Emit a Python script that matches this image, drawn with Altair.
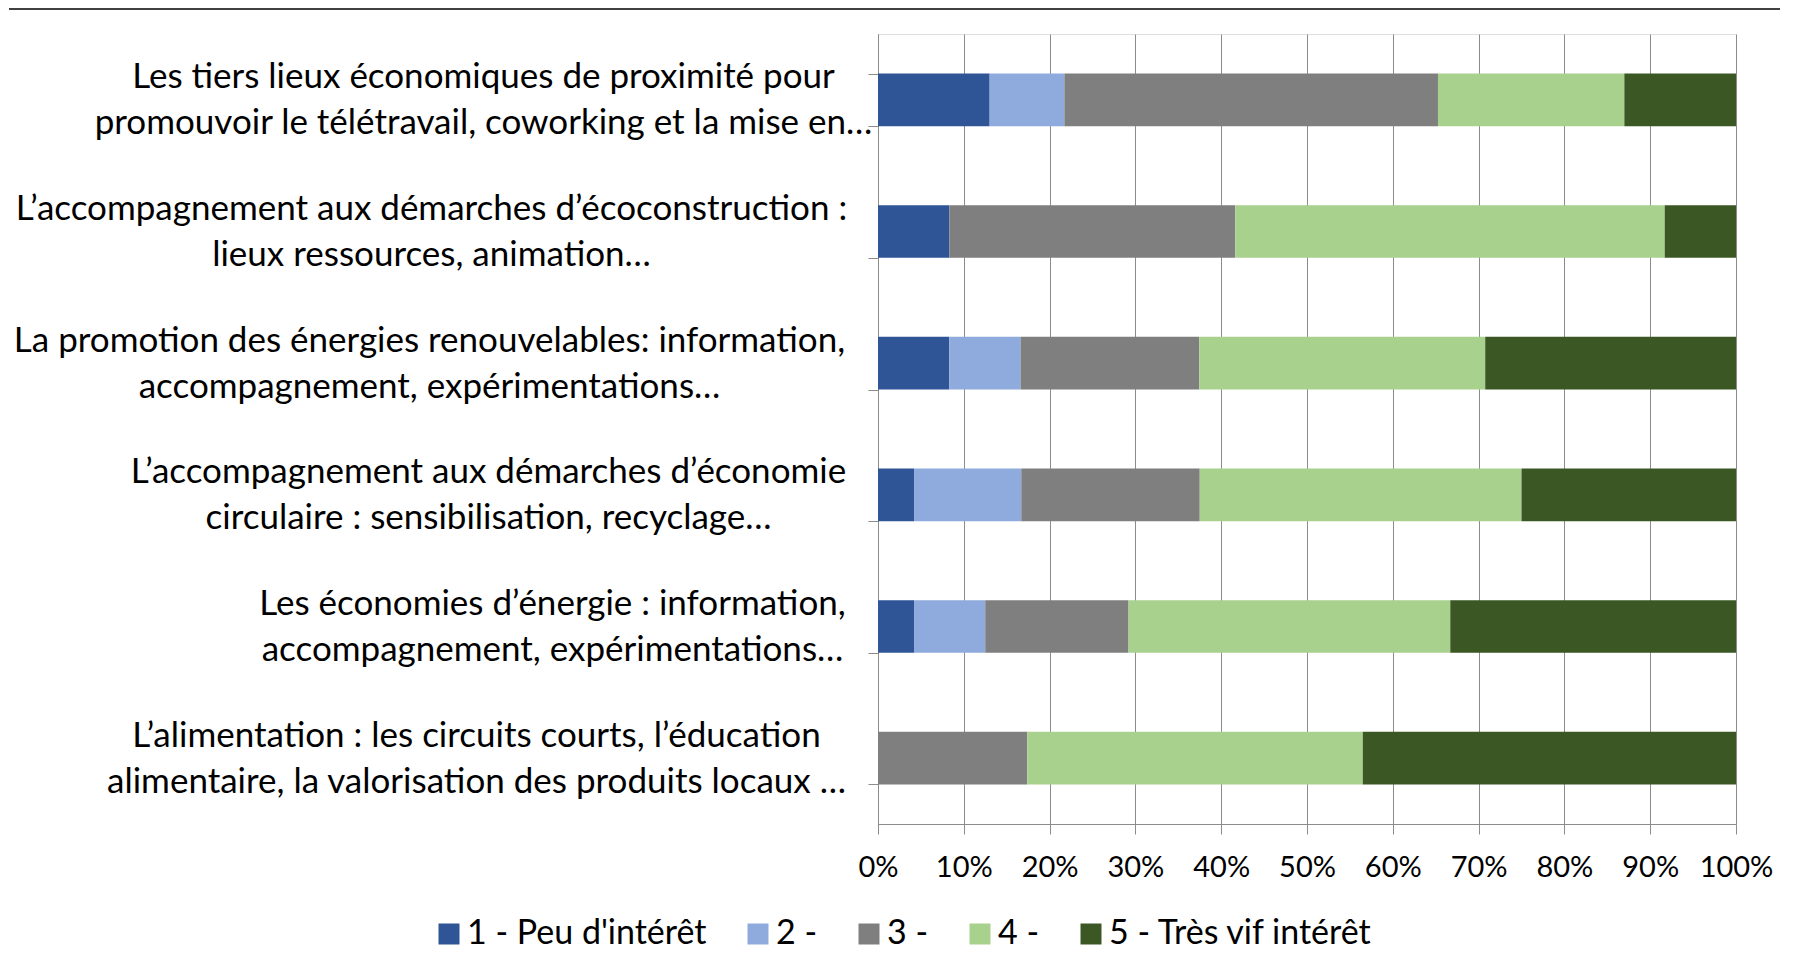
import json
import altair as alt
import pandas as pd

categories = [
    "Les tiers lieux économiques de proximité pour\npromouvoir le télétravail, coworking et la mise en…",
    "L’accompagnement aux démarches d’écoconstruction :\nlieux ressources, animation…",
    "La promotion des énergies renouvelables: information,\naccompagnement, expérimentations…",
    "L’accompagnement aux démarches d’économie\ncirculaire : sensibilisation, recyclage…",
    "Les économies d’énergie : information,\naccompagnement, expérimentations…",
    "L’alimentation : les circuits courts, l’éducation\nalimentaire, la valorisation des produits locaux …",
]
series = ["1 - Peu d'intérêt", "2 - ", "3 - ", "4 - ", "5 - Très vif intérêt"]
v1 = [13.0, 8.3, 8.3, 4.2, 4.2, 0.0]
v2 = [8.7, 0.0, 8.3, 12.5, 8.3, 0.0]
v3 = [43.5, 33.3, 20.8, 20.8, 16.7, 17.4]
v4 = [21.7, 50.0, 33.3, 37.5, 37.5, 39.1]
v5 = [13.0, 8.3, 29.2, 25.0, 33.3, 43.5]
colors = ["#2F5597", "#8FAADC", "#7F7F7F", "#A9D18E", "#3A5724"]

rows = []
for s_i, (name, vals) in enumerate(zip(series, [v1, v2, v3, v4, v5])):
    for c, v in zip(categories, vals):
        rows.append({"cat": c, "serie": name, "order": s_i, "val": v})
df = pd.DataFrame(rows)

FONT = "Lato"
FS_Y = 35
FS = 29
FS_LEG = 34
TICK = 10
EXTENT = 869

# per-label centre distance (label lines centred within block, as in source)
label_pad = [385, 437, 439, 380, 316, 392]
pad_cond = {
    "condition": [
        {"test": f"datum.value === {json.dumps(c, ensure_ascii=False)}", "value": p}
        for c, p in zip(categories, label_pad)
    ],
    "value": 380,
}

bars = alt.Chart(df).mark_bar().encode(
    y=alt.Y(
        "cat:N",
        sort=categories,
        title=None,
        scale=alt.Scale(paddingInner=0.6, paddingOuter=0.3),
        axis=alt.Axis(
            labelExpr="split(datum.label, '\\n')",
            labelFont=FONT,
            labelFontSize=FS_Y,
            labelColor="#000000",
            labelLineHeight=46,
            labelLimit=0,
            labelAlign="center",
            labelPadding=pad_cond,
            labelOffset=-23,
            tickBand="extent",
            tickSize=TICK,
            tickColor="#8c8c8c",
            domainColor="#8c8c8c",
            grid=False,
            minExtent=EXTENT,
            maxExtent=EXTENT,
        ),
    ),
    x=alt.X(
        "val:Q",
        stack="normalize",
        title=None,
        scale=alt.Scale(domain=[0, 1], nice=False),
        axis=alt.Axis(
            format="%",
            values=[i / 10 for i in range(11)],
            labelFont=FONT,
            labelFontSize=FS,
            labelColor="#000000",
            labelPadding=19,
            labelOverlap=False,
            labelFlush=False,
            tickSize=TICK,
            tickColor="#8c8c8c",
            domainColor="#8c8c8c",
            gridColor="#8c8c8c",
            grid=True,
        ),
    ),
    color=alt.Color(
        "serie:N",
        sort=series,
        scale=alt.Scale(domain=series, range=colors),
        legend=alt.Legend(
            title=None,
            orient="none",
            direction="horizontal",
            legendX=-446,
            legendY=883,
            symbolType="square",
            symbolSize=441,
            symbolStrokeWidth=0,
            labelFont=FONT,
            labelFontSize=FS_LEG,
            labelColor="#000000",
            labelLimit=0,
            labelOffset=1,
            columnPadding=34,
        ),
    ),
    order=alt.Order("order:Q"),
)

border = alt.Chart(pd.DataFrame({"k": [0]})).mark_rule(color="#404040", strokeWidth=2).encode(
    x=alt.value(-EXTENT), x2=alt.value(902), y=alt.value(-25)
)

chart = (
    alt.layer(bars, border)
    .properties(width=858, height=790, padding={"left": 0, "top": 0, "right": 0, "bottom": 5})
    .configure_view(stroke=None)
    .configure(font=FONT)
)

chart.save("out.html", embed_options={"renderer": "svg", "actions": False})
